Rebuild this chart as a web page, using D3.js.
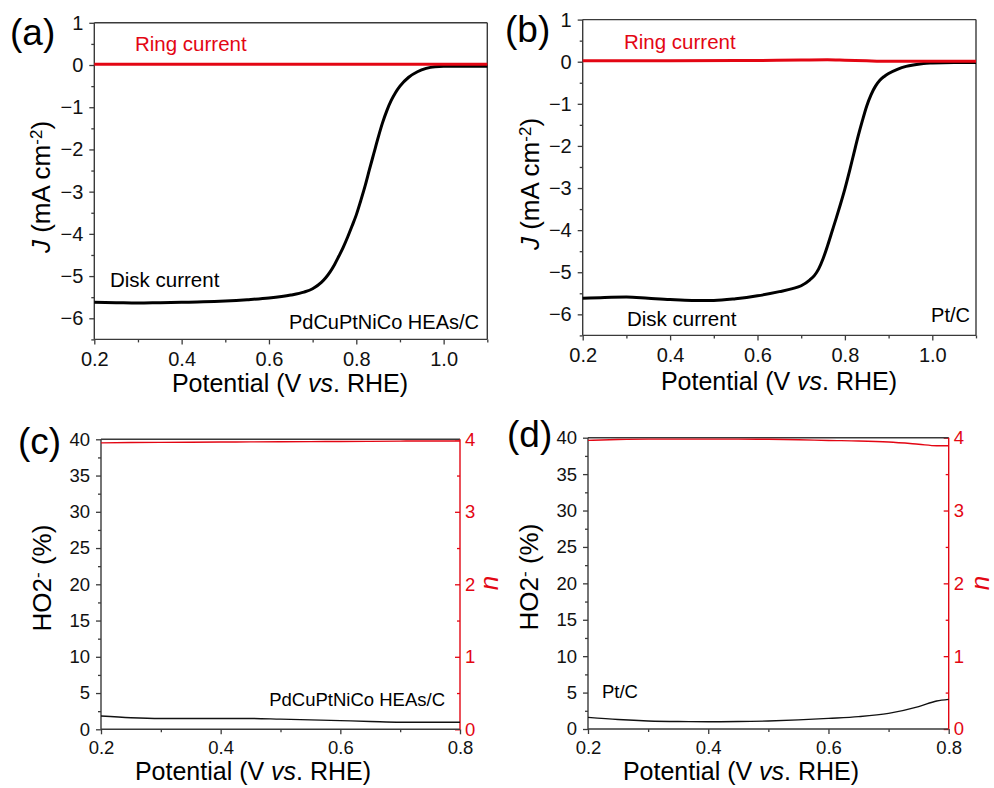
<!DOCTYPE html>
<html>
<head>
<meta charset="utf-8">
<script src="https://cdn.jsdelivr.net/npm/d3@7"></script>
<style>
  html, body { margin: 0; padding: 0; background: #ffffff; }
  svg { display: block; font-family: "Liberation Sans", Arial, Helvetica, sans-serif; }
</style>
</head>
<body>
<svg id="chart" width="994" height="788"></svg>
<script>
// ---------------- DATA ----------------
// Panel (a): PdCuPtNiCo HEAs/C  LSV
const potA = [0.2, 0.25, 0.3, 0.35, 0.4, 0.45, 0.5, 0.55, 0.6, 0.65, 0.68, 0.7, 0.72, 0.73, 0.74, 0.75, 0.76, 0.77, 0.78, 0.79, 0.8, 0.81, 0.82, 0.83, 0.84, 0.85, 0.86, 0.87, 0.88, 0.89, 0.9, 0.92, 0.94, 0.96, 0.98, 1.0, 1.05, 1.1];
const diskA = [-5.62, -5.63, -5.64, -5.63, -5.62, -5.61, -5.59, -5.56, -5.52, -5.45, -5.38, -5.30, -5.15, -5.04, -4.90, -4.73, -4.53, -4.32, -4.08, -3.82, -3.55, -3.22, -2.87, -2.48, -2.10, -1.72, -1.37, -1.08, -0.84, -0.65, -0.50, -0.29, -0.16, -0.08, -0.04, -0.03, -0.03, -0.03];
const ringPotA = [0.2, 0.4, 0.6, 0.8, 1.0, 1.1];
const ringA = [0.02, 0.02, 0.02, 0.02, 0.02, 0.02];

// Panel (b): Pt/C  LSV
const potB = [0.2, 0.25, 0.3, 0.35, 0.4, 0.45, 0.5, 0.55, 0.6, 0.65, 0.68, 0.7, 0.72, 0.73, 0.74, 0.75, 0.76, 0.77, 0.78, 0.79, 0.8, 0.81, 0.82, 0.83, 0.84, 0.85, 0.86, 0.87, 0.88, 0.89, 0.9, 0.92, 0.94, 0.96, 0.98, 1.0, 1.05, 1.1];
const diskB = [-5.62, -5.60, -5.59, -5.62, -5.65, -5.67, -5.67, -5.63, -5.56, -5.46, -5.39, -5.32, -5.18, -5.08, -4.92, -4.68, -4.38, -4.05, -3.72, -3.38, -3.02, -2.62, -2.20, -1.78, -1.40, -1.05, -0.78, -0.58, -0.44, -0.35, -0.28, -0.18, -0.11, -0.07, -0.04, -0.03, -0.02, -0.02];
const ringPotB = [0.2, 0.4, 0.6, 0.7, 0.76, 0.8, 0.85, 0.9, 1.0, 1.1];
const ringB = [0.02, 0.02, 0.03, 0.04, 0.045, 0.035, 0.02, 0.01, 0.01, 0.01];

// Panel (c): PdCuPtNiCo HEAs/C  HO2- % and n
const potC = [0.2, 0.25, 0.3, 0.35, 0.4, 0.45, 0.5, 0.55, 0.6, 0.65, 0.7, 0.75, 0.8];
const ho2C = [1.84, 1.6, 1.5, 1.5, 1.5, 1.5, 1.4, 1.3, 1.2, 1.08, 0.97, 0.97, 0.97];
const nC = [3.95, 3.955, 3.958, 3.96, 3.962, 3.964, 3.966, 3.968, 3.97, 3.972, 3.975, 3.977, 3.977];

// Panel (d): Pt/C  HO2- % and n
const potD = [0.2, 0.25, 0.3, 0.35, 0.4, 0.45, 0.5, 0.55, 0.6, 0.65, 0.7, 0.75, 0.78, 0.8];
const ho2D = [1.6, 1.3, 1.1, 1.02, 1.0, 1.02, 1.1, 1.25, 1.46, 1.7, 2.15, 3.07, 3.85, 4.07];
const nD = [3.963, 3.975, 3.98, 3.98, 3.98, 3.98, 3.978, 3.972, 3.962, 3.955, 3.94, 3.91, 3.89, 3.89];

// Tick values
const lsvXTicks = [0.2, 0.4, 0.6, 0.8, 1.0];
const lsvXMinor = [0.3, 0.5, 0.7, 0.9, 1.1];
const lsvYTicks = [-6, -5, -4, -3, -2, -1, 0, 1];
const lsvYMinor = [-6.5, -5.5, -4.5, -3.5, -2.5, -1.5, -0.5, 0.5];
const rrdeXTicks = [0.2, 0.4, 0.6, 0.8];
const rrdeXMinor = [0.3, 0.5, 0.7];
const ho2Ticks = [0, 5, 10, 15, 20, 25, 30, 35, 40];
const ho2Minor = [2.5, 7.5, 12.5, 17.5, 22.5, 27.5, 32.5, 37.5];
const nTicks = [0, 1, 2, 3, 4];
const nMinor = [0.5, 1.5, 2.5, 3.5];

// ---------------- STYLE ----------------
const RED = "#e30613";
const AXIS = "#3a3a3a";
const svg = d3.select("#chart");

function styleAxis(g, color, fontSize) {
  g.select(".domain").remove();
  g.selectAll(".tick line").attr("stroke", color).attr("stroke-width", 1.3);
  g.selectAll(".tick text").attr("fill", color === AXIS ? "#111" : color)
    .style("font-size", fontSize + "px").style("font-family", "Liberation Sans, Arial, sans-serif");
}

function frame(g, x0, x1, y0, y1, rightColor) {
  const f = g.append("g");
  f.append("line").attr("x1", x0).attr("x2", x1).attr("y1", y0).attr("y2", y0).attr("stroke", AXIS).attr("stroke-width", 1.4);
  f.append("line").attr("x1", x0).attr("x2", x1).attr("y1", y1).attr("y2", y1).attr("stroke", AXIS).attr("stroke-width", 1.4);
  f.append("line").attr("x1", x0).attr("x2", x0).attr("y1", y0).attr("y2", y1).attr("stroke", AXIS).attr("stroke-width", 1.4);
  f.append("line").attr("x1", x1).attr("x2", x1).attr("y1", y0).attr("y2", y1).attr("stroke", rightColor || AXIS).attr("stroke-width", 1.4);
}

function potentialLabel(g, x, y) {
  const xl = g.append("text").attr("x", x).attr("y", y)
    .attr("text-anchor", "middle").style("font-size", "25px").attr("fill", "#000");
  xl.append("tspan").text("Potential (V ");
  xl.append("tspan").style("font-style", "italic").text("vs");
  xl.append("tspan").text(". RHE)");
}

function lsvPanel(cfg) {
  const x = d3.scaleLinear().domain([0.2, 1.1]).range([cfg.left, cfg.right]);
  const y = d3.scaleLinear().domain([-6.5, 1]).range([cfg.bottom, cfg.top]);
  const g = svg.append("g");

  const xa = g.append("g").attr("transform", `translate(0,${cfg.bottom})`)
    .call(d3.axisBottom(x).tickValues(lsvXTicks).tickFormat(d3.format(".1f")).tickSize(5).tickPadding(7));
  styleAxis(xa, AXIS, 20);
  const xm = g.append("g").attr("transform", `translate(0,${cfg.bottom})`)
    .call(d3.axisBottom(x).tickValues(lsvXMinor).tickFormat("").tickSize(3));
  styleAxis(xm, AXIS, 20);

  const ya = g.append("g").attr("transform", `translate(${cfg.left},0)`)
    .call(d3.axisLeft(y).tickValues(lsvYTicks).tickFormat(d3.format("d")).tickSize(5).tickPadding(6));
  styleAxis(ya, AXIS, 20);
  const ym = g.append("g").attr("transform", `translate(${cfg.left},0)`)
    .call(d3.axisLeft(y).tickValues(lsvYMinor).tickFormat("").tickSize(3));
  styleAxis(ym, AXIS, 20);

  frame(g, cfg.left, cfg.right, cfg.top, cfg.bottom);

  const line = d3.line().x(d => x(d[0])).y(d => y(d[1])).curve(d3.curveMonotoneX);
  g.append("path").datum(cfg.pot.map((p, i) => [p, cfg.disk[i]]))
    .attr("d", line).attr("fill", "none").attr("stroke", "#000").attr("stroke-width", 3)
    .attr("stroke-linejoin", "round");
  g.append("path").datum(cfg.ringPot.map((p, i) => [p, cfg.ring[i]]))
    .attr("d", line).attr("fill", "none").attr("stroke", RED).attr("stroke-width", 3);

  // labels
  g.append("text").attr("x", cfg.ringX).attr("y", cfg.ringY).attr("fill", RED)
    .style("font-size", "20.5px").text("Ring current");
  g.append("text").attr("x", cfg.diskX).attr("y", cfg.diskY).attr("fill", "#000")
    .style("font-size", "20.5px").text("Disk current");
  g.append("text").attr("x", cfg.sampleX).attr("y", cfg.sampleY).attr("text-anchor", "end").attr("fill", "#000")
    .style("font-size", "20px").text(cfg.sample);

  g.append("text").attr("x", cfg.panelX).attr("y", cfg.panelY).style("font-size", "37px").attr("fill", "#000").text(cfg.panel);

  // y label
  const yl = g.append("text").attr("transform", `translate(${cfg.yLabelX},${cfg.yLabelY}) rotate(-90)`)
    .attr("text-anchor", "middle").style("font-size", "26px").attr("fill", "#000");
  yl.append("tspan").style("font-style", "italic").text("J");
  yl.append("tspan").text(" (mA cm");
  yl.append("tspan").attr("dy", "-0.45em").style("font-size", "17px").text("-2");
  yl.append("tspan").attr("dy", "0.3em").text(")");

  potentialLabel(g, cfg.xLabelX, cfg.xLabelY);
}

function rrdePanel(cfg) {
  const x = d3.scaleLinear().domain([0.2, 0.8]).range([cfg.left, cfg.right]);
  const y = d3.scaleLinear().domain([0, 40]).range([cfg.bottom, cfg.top]);
  const yn = d3.scaleLinear().domain([0, 4]).range([cfg.bottom, cfg.top]);
  const g = svg.append("g");

  const xa = g.append("g").attr("transform", `translate(0,${cfg.bottom})`)
    .call(d3.axisBottom(x).tickValues(rrdeXTicks).tickFormat(d3.format(".1f")).tickSize(5).tickPadding(7));
  styleAxis(xa, AXIS, 18.5);
  const xm = g.append("g").attr("transform", `translate(0,${cfg.bottom})`)
    .call(d3.axisBottom(x).tickValues(rrdeXMinor).tickFormat("").tickSize(3));
  styleAxis(xm, AXIS, 18.5);

  const ya = g.append("g").attr("transform", `translate(${cfg.left},0)`)
    .call(d3.axisLeft(y).tickValues(ho2Ticks).tickFormat(d3.format("d")).tickSize(5).tickPadding(6));
  styleAxis(ya, AXIS, 18.5);
  const ym = g.append("g").attr("transform", `translate(${cfg.left},0)`)
    .call(d3.axisLeft(y).tickValues(ho2Minor).tickFormat("").tickSize(3));
  styleAxis(ym, AXIS, 18.5);

  const ra = g.append("g").attr("transform", `translate(${cfg.right},0)`)
    .call(d3.axisRight(yn).tickValues(nTicks).tickFormat(d3.format("d")).tickSize(-5).tickPadding(5));
  styleAxis(ra, RED, 18.5);
  const rm = g.append("g").attr("transform", `translate(${cfg.right},0)`)
    .call(d3.axisRight(yn).tickValues(nMinor).tickFormat("").tickSize(-3));
  styleAxis(rm, RED, 18.5);

  frame(g, cfg.left, cfg.right, cfg.top, cfg.bottom, RED);

  const line = d3.line().x(d => x(d[0])).y(d => y(d[1])).curve(d3.curveMonotoneX);
  const lineN = d3.line().x(d => x(d[0])).y(d => yn(d[1])).curve(d3.curveMonotoneX);
  g.append("path").datum(cfg.pot.map((p, i) => [p, cfg.ho2[i]]))
    .attr("d", line).attr("fill", "none").attr("stroke", "#111").attr("stroke-width", 1.4);
  g.append("path").datum(cfg.pot.map((p, i) => [p, cfg.n[i]]))
    .attr("d", lineN).attr("fill", "none").attr("stroke", RED).attr("stroke-width", 1.4);

  g.append("text").attr("x", cfg.sampleX).attr("y", cfg.sampleY).attr("text-anchor", cfg.sampleAnchor)
    .attr("fill", "#000").style("font-size", "18.5px").text(cfg.sample);

  g.append("text").attr("x", cfg.panelX).attr("y", cfg.panelY).style("font-size", "37px").attr("fill", "#000").text(cfg.panel);

  const yl = g.append("text").attr("transform", `translate(${cfg.yLabelX},${cfg.yLabelY}) rotate(-90)`)
    .attr("text-anchor", "middle").style("font-size", "26px").attr("fill", "#000");
  yl.append("tspan").text("HO2");
  yl.append("tspan").attr("dy", "-0.45em").style("font-size", "17px").text("-");
  yl.append("tspan").attr("dy", "0.3em").text(" (%)");

  g.append("text").attr("transform", `translate(${cfg.nLabelX},${cfg.nLabelY}) rotate(-90)`)
    .attr("text-anchor", "middle").style("font-size", "26px").style("font-style", "italic")
    .attr("fill", RED).text("n");

  potentialLabel(g, cfg.xLabelX, cfg.xLabelY);
}

lsvPanel({
  left: 94.3, right: 487.3, top: 22.8, bottom: 339.4,
  pot: potA, disk: diskA, ringPot: ringPotA, ring: ringA,
  ringX: 135, ringY: 51, diskX: 110, diskY: 287,
  sample: "PdCuPtNiCo HEAs/C", sampleX: 479, sampleY: 329,
  panel: "(a)", panelX: 10, panelY: 45,
  yLabelX: 50, yLabelY: 187, xLabelX: 290, xLabelY: 392
});

lsvPanel({
  left: 582.7, right: 976, top: 19.6, bottom: 335.4,
  pot: potB, disk: diskB, ringPot: ringPotB, ring: ringB,
  ringX: 624, ringY: 48.5, diskX: 627, diskY: 326,
  sample: "Pt/C", sampleX: 970, sampleY: 322,
  panel: "(b)", panelX: 505, panelY: 42,
  yLabelX: 539, yLabelY: 184, xLabelX: 779, xLabelY: 390
});

rrdePanel({
  left: 101, right: 460, top: 439.3, bottom: 729.3,
  pot: potC, ho2: ho2C, n: nC,
  sample: "PdCuPtNiCo HEAs/C", sampleX: 445, sampleY: 706, sampleAnchor: "end",
  panel: "(c)", panelX: 18, panelY: 454,
  yLabelX: 51, yLabelY: 578, nLabelX: 498, nLabelY: 583,
  xLabelX: 253, xLabelY: 780
});

rrdePanel({
  left: 588, right: 948.7, top: 437.7, bottom: 729,
  pot: potD, ho2: ho2D, n: nD,
  sample: "Pt/C", sampleX: 602, sampleY: 698, sampleAnchor: "start",
  panel: "(d)", panelX: 507, panelY: 447,
  yLabelX: 538, yLabelY: 577, nLabelX: 989, nLabelY: 583,
  xLabelX: 741, xLabelY: 780
});
</script>
</body>
</html>
